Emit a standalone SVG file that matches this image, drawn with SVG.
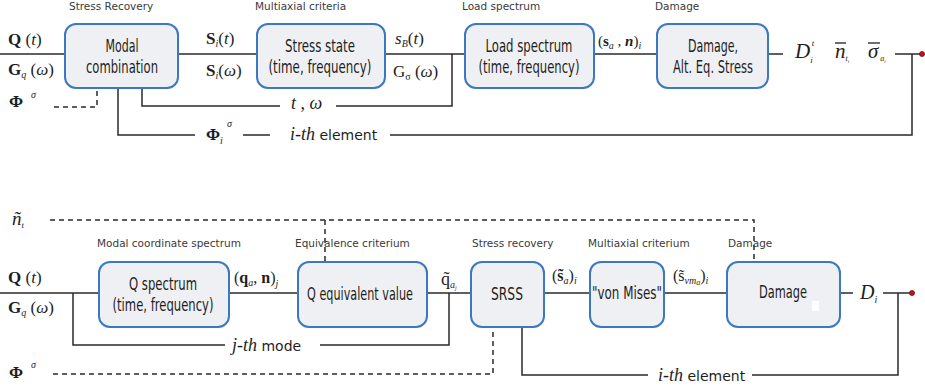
<svg xmlns="http://www.w3.org/2000/svg" width="925" height="388" viewBox="0 0 925 388">
<style>
  .box { fill: #eef0f3; stroke: #3b78c2; stroke-width: 2; }
  .btx { font-family: "DejaVu Sans", "Liberation Sans", sans-serif; font-size: 17px; fill: #1e1e1e; text-anchor: middle; }
  .cap { font-family: "DejaVu Sans", Verdana, sans-serif; font-size: 10.5px; fill: #3a3a3a; }
  .m { font-family: "Liberation Serif", "Times New Roman", serif; font-size: 17px; fill: #1e1e1e; }
  .b { font-weight: bold; font-style: normal; }
  .i { font-style: italic; }
  .sub { font-size: 10px; }
  .sans { font-family: "DejaVu Sans", Verdana, sans-serif; font-size: 14px; font-style: normal; }
  .ln { stroke: #2a2a2a; stroke-width: 1.5; fill: none; }
  .dash { stroke: #2a2a2a; stroke-width: 1.5; fill: none; stroke-dasharray: 5 4; }
  .bar { stroke: #1e1e1e; stroke-width: 1.3; }
  .dot { fill: #d01010; stroke: #601010; stroke-width: 0.8; }
</style>

<!-- connectors -->
<g id="connectors">
  <!-- upper chain: time / frequency domain -->
  <path class="ln" d="M0 54 H65"/>
  <path class="ln" d="M178 54 H257"/>
  <path class="ln" d="M385 54 H465"/>
  <path class="ln" d="M594 54 H657"/>
  <path class="ln" d="M768 54 H783"/>
  <path class="ln" d="M895 54 H921"/>
  <path class="dash" d="M54 107 H97 V88"/>
  <path class="ln" d="M142 88 V106 H280"/>
  <path class="ln" d="M336 106 H452 V54"/>
  <path class="ln" d="M118 88 V135 H195"/>
  <path class="ln" d="M243 135 H270"/>
  <path class="ln" d="M390 135 H912 V54"/>
  <circle class="dot" cx="922" cy="54" r="2.5"/>

  <!-- lower chain: modal coordinate approach -->
  <path class="dash" d="M50 220 H754 V262"/>
  <path class="dash" d="M325 220 V262"/>
  <path class="ln" d="M0 293 H99"/>
  <path class="ln" d="M229 293 H298"/>
  <path class="ln" d="M427 293 H471"/>
  <path class="ln" d="M544 293 H590"/>
  <path class="ln" d="M664 293 H727"/>
  <path class="ln" d="M840 293 H853"/>
  <path class="ln" d="M883 293 H911"/>
  <path class="ln" d="M73 293 V345 H225"/>
  <path class="ln" d="M320 345 H449 V293"/>
  <path class="dash" d="M53 374 H493 V327"/>
  <path class="ln" d="M522 327 V375 H648"/>
  <path class="ln" d="M752 375 H898 V293"/>
  <circle class="dot" cx="912" cy="293" r="2.5"/>
</g>

<!-- upper row nodes -->
<g id="modal-combination">
  <text class="cap" x="69" y="10">Stress Recovery</text>
  <rect class="box" x="65" y="24" width="113" height="64" rx="11"/>
  <text class="btx" x="122" y="52" textLength="33" lengthAdjust="spacingAndGlyphs">Modal</text>
  <text class="btx" x="122" y="73" textLength="72" lengthAdjust="spacingAndGlyphs">combination</text>
</g>
<g id="stress-state">
  <text class="cap" x="255" y="10">Multiaxial criteria</text>
  <rect class="box" x="257" y="24" width="128" height="64" rx="11"/>
  <text class="btx" x="320" y="52" textLength="70" lengthAdjust="spacingAndGlyphs">Stress state</text>
  <text class="btx" x="320" y="73" textLength="103" lengthAdjust="spacingAndGlyphs">(time, frequency)</text>
</g>
<g id="load-spectrum">
  <text class="cap" x="462" y="10">Load spectrum</text>
  <rect class="box" x="465" y="24" width="129" height="64" rx="11"/>
  <text class="btx" x="529" y="52" textLength="87" lengthAdjust="spacingAndGlyphs">Load spectrum</text>
  <text class="btx" x="529" y="73" textLength="101" lengthAdjust="spacingAndGlyphs">(time, frequency)</text>
</g>
<g id="damage-top">
  <text class="cap" x="655" y="10">Damage</text>
  <rect class="box" x="657" y="24" width="111" height="64" rx="11"/>
  <text class="btx" x="713" y="52" textLength="50" lengthAdjust="spacingAndGlyphs">Damage,</text>
  <text class="btx" x="713" y="73" textLength="80" lengthAdjust="spacingAndGlyphs">Alt. Eq. Stress</text>
</g>

<!-- upper row signal labels -->
<g id="top-labels">
  <text class="m" x="8" y="45"><tspan class="b">Q</tspan> (<tspan class="i">t</tspan>)</text>
  <text class="m" x="8" y="75"><tspan class="b">G</tspan><tspan class="sub i" dy="3">q</tspan><tspan dy="-3"> (</tspan><tspan class="i">ω</tspan>)</text>
  <text class="m" x="9" y="107"><tspan class="b">Φ</tspan><tspan class="sub i" dx="8" dy="-9">σ</tspan></text>
  <text class="m" x="206" y="44"><tspan class="b">S</tspan><tspan class="sub i" dy="3">i</tspan><tspan dy="-3">(</tspan><tspan class="i">t</tspan>)</text>
  <text class="m" x="206" y="76"><tspan class="b">S</tspan><tspan class="sub i" dy="3">i</tspan><tspan dy="-3">(</tspan><tspan class="i">ω</tspan>)</text>
  <text class="m" x="395" y="44"><tspan class="i">s</tspan><tspan class="sub i" dy="3">B</tspan><tspan dy="-3">(</tspan><tspan class="i">t</tspan>)</text>
  <text class="m" x="393" y="77">G<tspan class="sub" dy="3">σ</tspan><tspan dy="-3"> (</tspan><tspan class="i">ω</tspan>)</text>
  <text class="m" x="291" y="109" style="font-size:18px"><tspan class="i">t</tspan> ,  <tspan class="i">ω</tspan></text>
  <text class="m" x="206" y="140"><tspan class="b">Φ</tspan><tspan class="sub i" dy="4">i</tspan><tspan class="sub i" dx="4" dy="-17">σ</tspan></text>
  <text class="m" x="290" y="140" style="font-size:18px"><tspan class="i">i-th</tspan><tspan class="sans"> element</tspan></text>
  <text class="m" x="598" y="46" style="font-size:15px">(<tspan class="b">s</tspan><tspan class="sub i" dy="3">a</tspan><tspan dy="-3"> , </tspan><tspan class="b i">n</tspan>)<tspan class="sub i" dy="3">i</tspan></text>
  <text class="m i" x="795" y="58" style="font-size:21px">D<tspan style="font-size:9px" dy="5">i</tspan><tspan style="font-size:9px" dx="-1" dy="-17">t</tspan></text>
  <text class="m i" x="835" y="58" style="font-size:21px">n<tspan style="font-size:8px" dy="3">t</tspan><tspan style="font-size:5px" dy="2">i</tspan></text>
  <line class="bar" x1="835" y1="43" x2="846" y2="43"/>
  <text class="m i" x="868" y="58" style="font-size:21px">σ<tspan style="font-size:8px" dx="2" dy="3">a</tspan><tspan style="font-size:5px" dy="2">i</tspan></text>
  <line class="bar" x1="868" y1="43" x2="880" y2="43"/>
</g>

<!-- lower row nodes -->
<g id="q-spectrum">
  <text class="cap" x="97" y="247">Modal coordinate spectrum</text>
  <rect class="box" x="99" y="262" width="130" height="65" rx="11"/>
  <text class="btx" x="163" y="290" textLength="68" lengthAdjust="spacingAndGlyphs">Q spectrum</text>
  <text class="btx" x="163" y="311" textLength="101" lengthAdjust="spacingAndGlyphs">(time, frequency)</text>
</g>
<g id="q-equivalent">
  <text class="cap" x="295" y="247">Equivalence criterium</text>
  <rect class="box" x="298" y="262" width="129" height="65" rx="11"/>
  <text class="btx" x="360" y="300" textLength="106" lengthAdjust="spacingAndGlyphs">Q equivalent value</text>
</g>
<g id="srss">
  <text class="cap" x="472" y="247">Stress recovery</text>
  <rect class="box" x="471" y="262" width="73" height="65" rx="11"/>
  <text class="btx" x="507" y="300" textLength="32" lengthAdjust="spacingAndGlyphs">SRSS</text>
</g>
<g id="von-mises">
  <text class="cap" x="588" y="247">Multiaxial criterium</text>
  <rect class="box" x="590" y="262" width="74" height="65" rx="11"/>
  <text class="btx" x="627" y="299" textLength="70" lengthAdjust="spacingAndGlyphs">"von Mises"</text>
</g>
<g id="damage-bottom">
  <text class="cap" x="728" y="247">Damage</text>
  <rect class="box" x="727" y="262" width="113" height="65" rx="11"/>
  <text class="btx" x="783" y="298" textLength="48" lengthAdjust="spacingAndGlyphs">Damage</text>
  <rect x="812" y="301" width="7" height="10" fill="#ffffff"/>
</g>

<!-- lower row signal labels -->
<g id="bottom-labels">
  <text class="m i" x="12" y="225" style="font-size:19px">ñ<tspan style="font-size:9px" dy="3">t</tspan></text>
  <text class="m" x="8" y="283"><tspan class="b">Q</tspan> (<tspan class="i">t</tspan>)</text>
  <text class="m" x="8" y="313"><tspan class="b">G</tspan><tspan class="sub i" dy="3">q</tspan><tspan dy="-3"> (</tspan><tspan class="i">ω</tspan>)</text>
  <text class="m" x="9" y="378"><tspan class="b">Φ</tspan><tspan class="sub i" dx="8" dy="-10">σ</tspan></text>
  <text class="m" x="234" y="283" style="font-size:16px">(<tspan class="b">q</tspan><tspan class="sub i" dy="3">a</tspan><tspan dy="-3">, </tspan><tspan class="b">n</tspan>)<tspan class="sub i" dy="4">j</tspan></text>
  <text class="m" x="232" y="351" style="font-size:18px"><tspan class="i">j-th</tspan><tspan class="sans"> mode</tspan></text>
  <text class="m" x="441" y="285" style="font-size:18px">q&#x303;<tspan class="sub i" dy="3">a</tspan><tspan class="i" style="font-size:6px" dy="2">j</tspan></text>
  <text class="m" x="552" y="281" style="font-size:16px">(<tspan class="b">s&#x303;</tspan><tspan class="sub i" dy="3">a</tspan><tspan dy="-3">)</tspan><tspan class="sub i" dy="3">i</tspan></text>
  <text class="m" x="673" y="281" style="font-size:16px">(s&#x303;<tspan class="sub i" dy="3">vm</tspan><tspan class="i" style="font-size:8px" dy="1">a</tspan><tspan dy="-4">)</tspan><tspan class="sub i" dy="3">i</tspan></text>
  <text class="m i" x="860" y="299" style="font-size:20px">D<tspan class="sub" dy="4">i</tspan></text>
  <text class="m" x="658" y="381" style="font-size:18px"><tspan class="i">i-th</tspan><tspan class="sans"> element</tspan></text>
</g>
</svg>
